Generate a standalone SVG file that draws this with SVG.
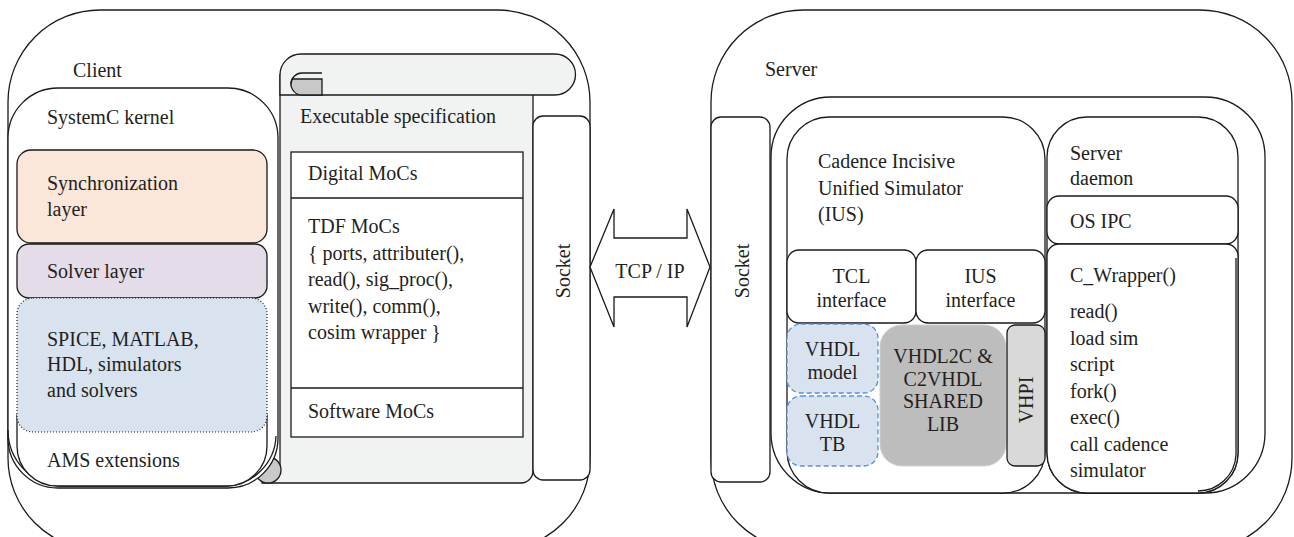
<svg xmlns="http://www.w3.org/2000/svg" width="1294" height="537" viewBox="0 0 1294 537">
<style>
.s{stroke:#1a1a1a;stroke-width:1.3;fill:#fff}
.n{stroke:#1a1a1a;stroke-width:1.3;fill:none}
.t{font-family:"Liberation Serif","Times New Roman",serif;font-size:20px;fill:#231f20}
.c{text-anchor:middle}
.dash{stroke:#5b8ed6;stroke-width:1.3;stroke-dasharray:5,3;fill:#d9e3ef}
</style>
<rect width="1294" height="537" fill="#fff"/>
<g id="client">
<rect class="s" x="8" y="10" width="582" height="540" rx="92"/>
<text class="t" x="73" y="77">Client</text>
</g>
<g id="exec-spec">
<path class="s" style="fill:#f1f2f2" d="M280,75 L533,75 L533,471 A12,12 0 0 1 521,483 L262,483 L262,470 L280,470 Z"/>
<circle class="s" style="fill:#c9c9c9" cx="268" cy="470" r="13"/>
<path class="s" style="fill:#f1f2f2" d="M280,95 V75 A21,21 0 0 1 301,54 H555 A20.5,20.5 0 0 1 555,95 Z"/>
<path class="s" style="fill:#c8c8c8" d="M322,79 H292.2 A11,11 0 0 0 302,95 H322 Z"/>
<path class="n" d="M322,73 H302 A11,11 0 0 0 291,84"/>
<text class="t" x="300" y="123">Executable specification</text>
<rect class="s" x="291" y="152" width="232" height="285"/>
<line class="n" x1="291" y1="198" x2="523" y2="198"/>
<line class="n" x1="291" y1="388" x2="523" y2="388"/>
<text class="t" x="308" y="180">Digital MoCs</text>
<text class="t" x="308" y="233">TDF MoCs</text>
<text class="t" x="308" y="259.5">{ ports, attributer(),</text>
<text class="t" x="308" y="286">read(), sig_proc(),</text>
<text class="t" x="308" y="312.5">write(), comm(),</text>
<text class="t" x="308" y="339">cosim wrapper }</text>
<text class="t" x="308" y="418">Software MoCs</text>
</g>
<g id="kernel">
<rect class="s" x="8" y="88" width="270" height="400" rx="50"/>
<path class="n" d="M8,430 A56,56 0 0 0 60,486 H226 A52,52 0 0 0 276,436"/>
<text class="t" x="47" y="124">SystemC kernel</text>
<path class="s" d="M17,415 V446 A40,40 0 0 0 57,486 H227 A40,40 0 0 0 267,446 V415 Z"/>
<text class="t" x="47" y="467">AMS extensions</text>
</g>
<g id="sync">
<rect class="s" style="fill:#fbe7d9" x="17" y="150" width="250" height="93" rx="14"/>
<text class="t" x="47" y="190">Synchronization</text>
<text class="t" x="47" y="216">layer</text>
</g>
<g id="solver">
<rect class="s" style="fill:#e4dde9" x="17" y="244" width="250" height="54" rx="12"/>
<text class="t" x="47" y="278">Solver layer</text>
</g>
<g id="spice">
<rect x="17" y="298" width="250" height="134" rx="16" fill="#d9e3ef" stroke="#1a1a1a" stroke-width="1.2" stroke-dasharray="1,2"/>
<text class="t" x="47" y="346">SPICE, MATLAB,</text>
<text class="t" x="47" y="371">HDL, simulators</text>
<text class="t" x="47" y="397">and solvers</text>
</g>
<g id="client-socket">
<rect class="s" x="533" y="116" width="57" height="364" rx="10"/>
<text class="t c" transform="translate(570,271) rotate(-90)">Socket</text>
</g>
<g id="connectors">
<polygon class="s" points="590,267 614,209 614,238 687,238 687,209 710,267 687,327 687,297 614,297 614,327"/>
<text class="t c" x="650" y="278">TCP / IP</text>
</g>
<g id="server">
<rect class="s" x="711" y="10" width="581" height="540" rx="92"/>
<text class="t" x="765" y="76">Server</text>
<rect class="s" x="771" y="97" width="494" height="396" rx="60"/>
</g>
<g id="server-socket">
<rect class="s" x="711" y="117" width="59" height="365" rx="10"/>
<text class="t c" transform="translate(749,271) rotate(-90)">Socket</text>
</g>
<g id="ius">
<rect class="s" x="787" y="117" width="258" height="376" rx="42"/>
<text class="t" x="818" y="168">Cadence Incisive</text>
<text class="t" x="818" y="194.5">Unified Simulator</text>
<text class="t" x="818" y="221">(IUS)</text>
</g>
<g id="tcl">
<rect class="s" x="787" y="250" width="129" height="73" rx="12"/>
<text class="t c" x="851.5" y="283">TCL</text>
<text class="t c" x="851.5" y="307">interface</text>
</g>
<g id="ius-if">
<rect class="s" x="916" y="250" width="129" height="73" rx="12"/>
<text class="t c" x="980.5" y="283">IUS</text>
<text class="t c" x="980.5" y="307">interface</text>
</g>
<g id="vhdl-model">
<rect class="dash" x="787" y="324" width="91" height="69" rx="14"/>
<text class="t c" x="832.5" y="356">VHDL</text>
<text class="t c" x="832.5" y="379">model</text>
</g>
<g id="vhdl-tb">
<rect class="dash" x="787" y="396" width="91" height="70" rx="14"/>
<text class="t c" x="832.5" y="428">VHDL</text>
<text class="t c" x="832.5" y="451">TB</text>
</g>
<g id="shared-lib">
<rect x="880" y="325" width="126" height="141" rx="22" fill="#bdbdbd" stroke="#cfcfcf" stroke-width="1"/>
<text class="t c" x="943" y="363">VHDL2C &amp;</text>
<text class="t c" x="943" y="386">C2VHDL</text>
<text class="t c" x="943" y="408">SHARED</text>
<text class="t c" x="943" y="431">LIB</text>
</g>
<g id="vhpi">
<rect class="s" style="fill:#d9d9d9" x="1007" y="325" width="38" height="141" rx="8"/>
<text class="t c" transform="translate(1033,400) rotate(-90)">VHPI</text>
</g>
<g id="daemon">
<rect class="s" x="1047" y="117" width="191" height="376" rx="40"/>
<text class="t" x="1070" y="160">Server</text>
<text class="t" x="1070" y="185">daemon</text>
</g>
<g id="os-ipc">
<rect class="s" x="1047" y="196" width="191" height="48" rx="12"/>
<text class="t" x="1070" y="228">OS IPC</text>
</g>
<g id="c-wrapper">
<path class="s" d="M1047,256 A12,12 0 0 1 1059,244 H1226 A12,12 0 0 1 1238,256 V453 A40,40 0 0 1 1198,493 H1087 A40,40 0 0 1 1047,453 Z"/>
<path class="n" d="M1236,258 V455 A38,38 0 0 1 1198,491"/>
<text class="t" x="1070" y="282">C_Wrapper()</text>
<text class="t" x="1070" y="318">read()</text>
<text class="t" x="1070" y="344.5">load sim</text>
<text class="t" x="1070" y="371">script</text>
<text class="t" x="1070" y="397.5">fork()</text>
<text class="t" x="1070" y="424">exec()</text>
<text class="t" x="1070" y="450.5">call cadence</text>
<text class="t" x="1070" y="477">simulator</text>
</g>
</svg>
